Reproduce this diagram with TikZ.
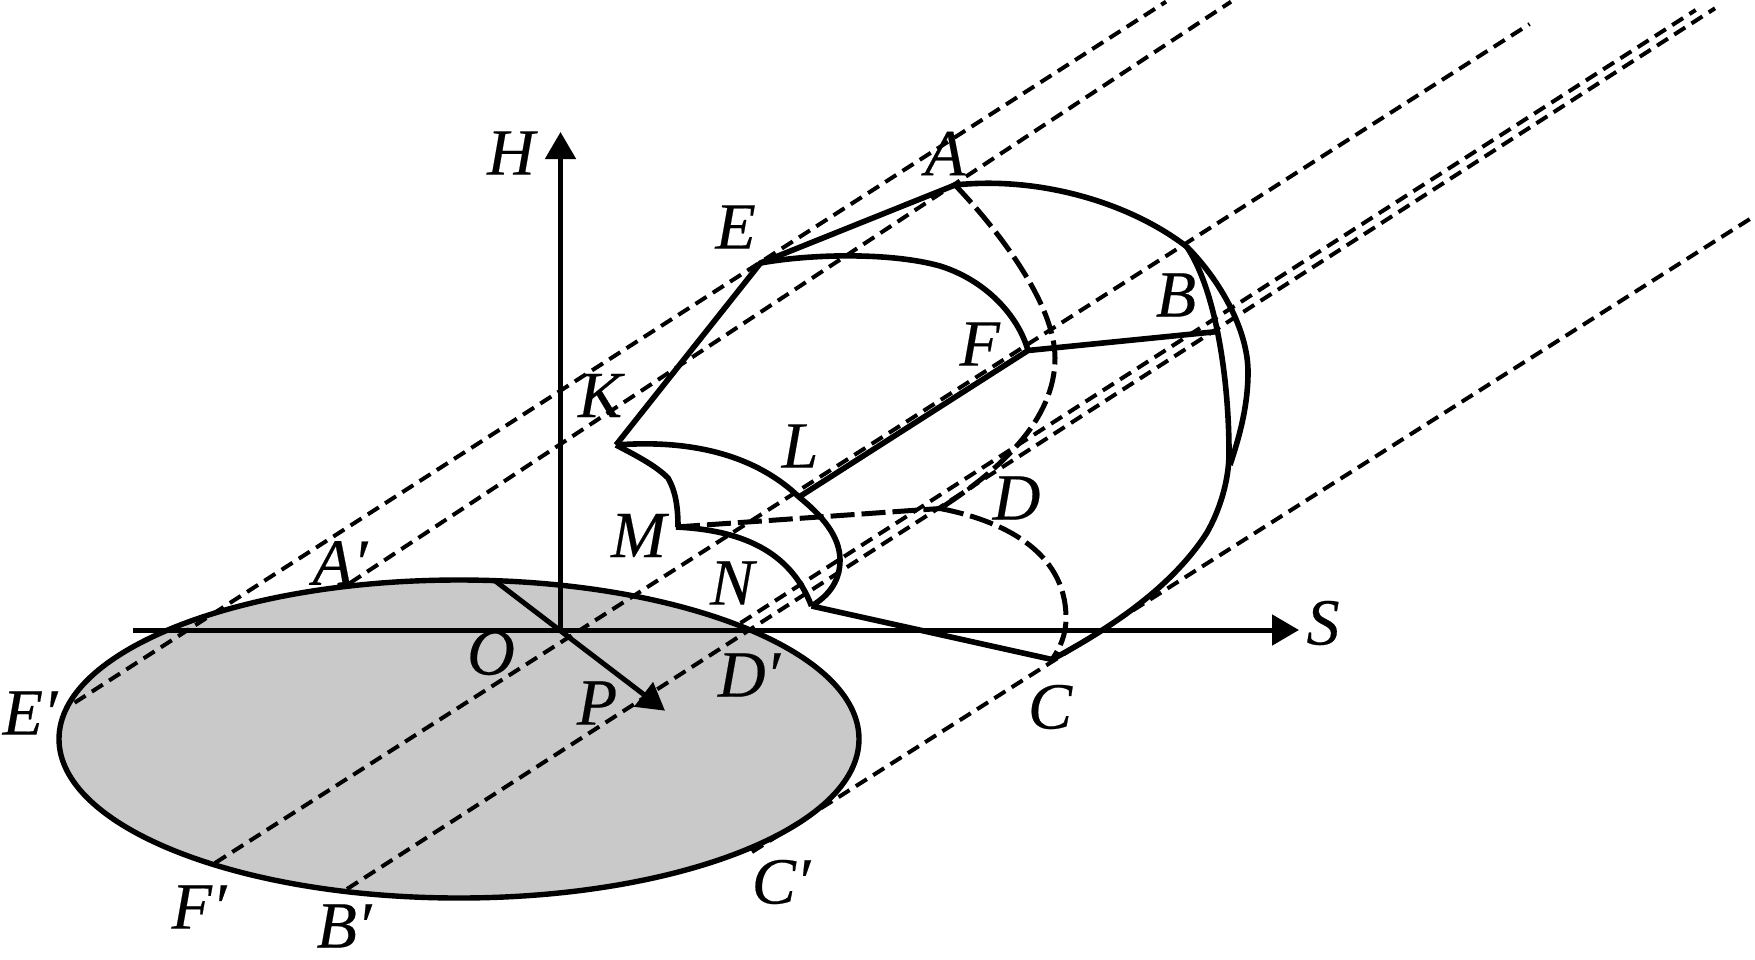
\documentclass[tikz,border=0pt]{standalone}
\usepackage{fontspec}
\setmainfont{Liberation Serif}[ItalicFeatures={FakeBold=0.3}]
\usetikzlibrary{arrows.meta}
\tikzset{
  lbl/.style={inner sep=0pt,font=\fontsize{66}{70}\selectfont\rmfamily\itshape,text=black},
  solidline/.style={line width=5.6pt,black,line join=miter},
  raydash/.style={line width=4pt,black,dash pattern=on 13pt off 7.5pt},
  hiddendash/.style={line width=5pt,black,dash pattern=on 24pt off 7pt},
  axisline/.style={line width=5pt,black,-{Triangle[length=27pt,width=30pt]}},
  disc/.style={line width=5.4pt,black,fill=black!21}
}
\begin{document}
\begin{tikzpicture}[x=1pt,y=-1pt]
\useasboundingbox (0,0) rectangle (1755,959);
% named points
\coordinate (A) at (955,185);
\coordinate (E) at (760.5,263);
\coordinate (K) at (616,445);
\coordinate (F) at (1028,350.5);
\coordinate (B) at (1218,331.5);
\coordinate (L) at (799,497);
\coordinate (M) at (676,527);
\coordinate (N) at (811.5,606);
\coordinate (C) at (1052,659.5);
\coordinate (D) at (940,508.5);
\coordinate (O) at (560.5,630);
\coordinate (Stip) at (1299,630);
\coordinate (Sleft) at (133,630);
\coordinate (Htip) at (560.5,132);
\coordinate (Pstart) at (494,580);
\coordinate (Ptip) at (665,710.7);
\coordinate (Ep) at (74.6,702.7);
\coordinate (Ee) at (1166,1.7);
\coordinate (Ap) at (350,583);
\coordinate (Ae) at (1231,1.7);
\coordinate (Fp) at (215,863);
\coordinate (Fe) at (1529.6,24);
\coordinate (Dp) at (740.5,623);
\coordinate (De) at (1695.7,10);
\coordinate (Bp) at (347,889);
\coordinate (Be) at (1715,8.3);
\coordinate (Cp) at (752,852);
\coordinate (Ce) at (1753.5,216.7);
\coordinate (T) at (1186.7,246.7);
\coordinate (Q) at (1230,465);
% disc
\draw[disc] (459,739) ellipse [x radius=400, y radius=159];
% rays
\draw[raydash] (Ep) -- (Ee);
\draw[raydash] (Ap) -- (Ae);
\draw[raydash] (Fp) -- (Fe);
\draw[raydash] (Dp) -- (De);
\draw[raydash] (Bp) -- (Be);
\draw[raydash] (Cp) -- (Ce);
% axes
\draw[axisline] (Sleft) -- (Stip);
\draw[axisline] (O) -- (Htip);
\draw[axisline] (Pstart) -- (Ptip);
% solid outline
\draw[solidline] (A) .. controls (1040,176) and (1130,203) .. (T)
  .. controls (1220,280) and (1248,330) .. (1248,372)
  .. controls (1248,405) and (1240,435) .. (Q);
\draw[solidline] (C) .. controls (1105,631) and (1170,590) .. (1206.7,533)
  .. controls (1220,510) and (1229,480) .. (1229,453)
  .. controls (1229,380) and (1216,290) .. (T);
\draw[solidline] (K) -- (E) -- (A);
\draw[solidline] (E) .. controls (810,254) and (890,252) .. (940,266)
  .. controls (985,280) and (1018,315) .. (F);
\draw[solidline] (L) -- (F) -- (B);
\draw[solidline] (K) .. controls (680,440) and (750,450) .. (L)
  .. controls (820,514) and (840,535) .. (840,560)
  .. controls (840,580) and (830,595) .. (N);
\draw[solidline] (K) .. controls (635,455) and (655,465) .. (668,478)
  .. controls (675,490) and (678,505) .. (678,527) -- (M);
\draw[solidline] (M) .. controls (740,530) and (790,550) .. (N);
\draw[solidline] (N) -- (C);
% hidden edges
\draw[hiddendash] (M) -- (D);
\draw[hiddendash] (A) .. controls (1000,232) and (1055,305) .. (1055,358)
  .. controls (1055,420) and (1000,470) .. (D);
\draw[hiddendash] (D) .. controls (1000,520) and (1066,550) .. (1066,618)
  .. controls (1066,635) and (1060,648) .. (C);
% labels
\node[lbl] (lH) at (511,153) {H};
\node[lbl] (lA) at (945,153.6) {A};
\node[lbl] (lE) at (735.6,227) {E};
\node[lbl] (lB) at (1176,295) {B};
\node[lbl] (lF) at (979.7,344) {F};
\node[lbl] (lK) at (600,395.5) {K};
\node[lbl] (lL) at (800,446) {L};
\node[lbl] (lD) at (1016.5,498) {D};
\node[lbl] (lM) at (638.5,535.5) {M};
\node[lbl] (lN) at (732,583) {N};
\node[lbl] (lAp) at (340,563) {A′};
\node[lbl] (lO) at (491,653) {O};
\node[lbl] (lP) at (597,703) {P};
\node[lbl] (lDp) at (749,675) {D′};
\node[lbl] (lEp) at (30,713) {E′};
\node[lbl] (lFp) at (199,907) {F′};
\node[lbl] (lBp) at (344,926) {B′};
\node[lbl] (lCp) at (781,882) {C′};
\node[lbl] (lC) at (1050,707) {C};
\node[lbl] (lS) at (1323,623) {S};
\end{tikzpicture}
\end{document}
